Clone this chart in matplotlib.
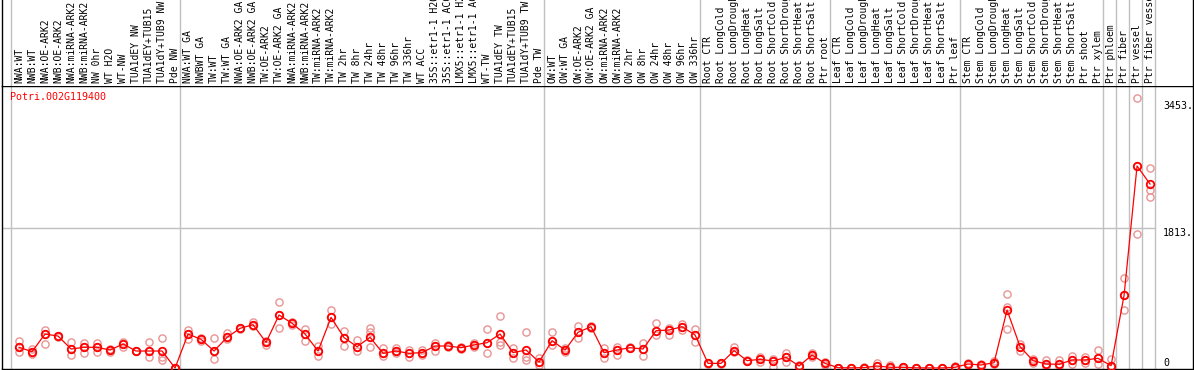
import matplotlib
matplotlib.use('Agg')
import matplotlib.pyplot as plt
import numpy as np

# ── 데이터 ──────────────────────────────
samples = [
    # NW
    'NWA:WT', 'NWB:WT', 'NWA:OE-ARK2', 'NWB:OE-ARK2', 'NWA:miRNA-ARK2', 'NWB:miRNA-ARK2',
    'NW 0hr', 'WT H2O', 'WT-NW', 'TUA1dEY NW', 'TUA1dEY+TUB15', 'TUA1dY+TUB9 NW', 'Pde NW',
    # TW
    'NWA:WT GA', 'NWBWT GA', 'TW:WT', 'TW:WT GA', 'NWA:OE-ARK2 GA', 'NWB:OE-ARK2 GA',
    'TW:OE-ARK2', 'TW:OE-ARK2 GA', 'NWA:miRNA-ARK2', 'NWB:miRNA-ARK2', 'TW:miRNA-ARK2',
    'TW:miRNA-ARK2', 'TW 2hr', 'TW 8hr', 'TW 24hr', 'TW 48hr', 'TW 96hr', 'TW 336hr',
    'WT ACC', '35S::etr1-1 H2O', '35S::etr1-1 ACC', 'LMX5::etr1-1 H2O', 'LMX5::etr1-1 ACC',
    'WT-TW', 'TUA1dEY TW', 'TUA1dEY+TUB15', 'TUA1dY+TUB9 TW', 'Pde TW',
    # OW
    'OW:WT', 'OW:WT GA', 'OW:OE-ARK2', 'OW:OE-ARK2 GA', 'OW:miRNA-ARK2', 'OW:miRNA-ARK2',
    'OW 2hr', 'OW 8hr', 'OW 24hr', 'OW 48hr', 'OW 96hr', 'OW 336hr',
    # Root
    'Root CTR', 'Root LongCold', 'Root LongDrought', 'Root LongHeat', 'Root LongSalt',
    'Root ShortCold', 'Root ShortDrought', 'Root ShortHeat', 'Root ShortSalt', 'Ptr root',
    # Leaf
    'Leaf CTR', 'Leaf LongCold', 'Leaf LongDrought', 'Leaf LongHeat', 'Leaf LongSalt',
    'Leaf ShortCold', 'Leaf ShortDrought', 'Leaf ShortHeat', 'Leaf ShortSalt', 'Ptr leaf',
    # Stem
    'Stem CTR', 'Stem LongCold', 'Stem LongDrought', 'Stem LongHeat', 'Stem LongSalt',
    'Stem ShortCold', 'Stem ShortDrought', 'Stem ShortHeat', 'Stem ShortSalt',
    'Ptr shoot', 'Ptr xylem',
    'Ptr phloem', 'Ptr fiber', 'Ptr vessel', 'Ptr fiber vessel',
]

group_sizes = [13, 28, 12, 10, 10, 11, 1, 1, 1, 1]

mean_expr = [
    268, 212, 440, 414, 246, 268, 268, 233, 311, 220, 220, 220, 0,
    440, 371, 220, 397, 514, 561, 332, 687, 579, 440, 220, 656, 393, 276, 397,
    190, 220, 190, 199, 285, 285, 263, 298, 328, 440, 199, 233, 78,
    354, 233, 462, 535, 199, 233, 263, 246, 484, 492, 535, 427,
    60, 60, 225, 95, 112, 91, 138, 26, 168, 60,
    4, 2, 5, 26, 9, 9, 2, 1, 1, 9,
    52, 39, 69, 751, 276, 95, 52, 47, 104, 104, 125,
    30, 941, 2617, 2383,
]

rep1 = [
    350, 246, 492, 414, 332, 328, 320, 246, 341, 225, 337, 384, 0,
    492, 384, 384, 449, 514, 600, 350, 851, 579, 501, 285, 751, 484, 363, 514,
    255, 255, 233, 233, 328, 298, 276, 328, 501, 674, 255, 462, 39,
    462, 255, 544, 548, 255, 276, 276, 320, 587, 514, 566, 501,
    69, 60, 268, 104, 147, 117, 190, 39, 199, 82,
    4, 2, 4, 60, 35, 9, 2, 1, 1, 26,
    69, 52, 91, 954, 307, 112, 104, 104, 155, 147, 233,
    112, 1162, 3493, 2587,
]
rep2 = [
    203, 181, 307, 405, 164, 199, 212, 212, 276, 216, 138, 138, 3,
    371, 350, 117, 371, 520, 561, 298, 514, 600, 350, 155, 566, 285, 225, 462,
    155, 190, 147, 168, 225, 276, 250, 276, 190, 337, 125, 147, 134,
    298, 212, 384, 535, 125, 168, 255, 155, 427, 427, 492, 341,
    60, 55, 207, 95, 82, 9, 82, 9, 138, 39,
    2, 3, 8, 26, 9, 12, 1, 2, 2, 9,
    39, 39, 52, 794, 225, 69, 26, 26, 47, 69, 52,
    9, 751, 1731, 2306,
]
rep3 = [
    268, 212, 440, 420, 246, 268, 268, 233, 311, 220, 220, 104, 0,
    440, 371, 220, 397, 508, 540, 332, 687, 560, 440, 220, 656, 393, 276, 268,
    190, 220, 190, 199, 285, 285, 263, 298, 328, 294, 199, 104, 78,
    354, 233, 462, 520, 199, 233, 263, 246, 484, 492, 535, 427,
    55, 65, 225, 90, 112, 91, 138, 26, 168, 60,
    6, 1, 6, 20, 5, 6, 3, 0, 0, 5,
    52, 30, 69, 501, 276, 95, 52, 47, 104, 104, 125,
    30, 941, 2617, 2211,
]

gene_id = 'Potri.002G119400'
ytick_vals = [0, 1813, 3453]
ytick_labels = ['0', '1813.', '3453.']

# ── 그림 ──────────────────────────────
W, H = 1194, 370
fig = plt.figure(figsize=(W / 100, H / 100), dpi=100)
mono = 'DejaVu Sans Mono'

# 픽셀 -> 열 좌표 변환 (열 간격 13px, 첫 열 시작 x=11)
col0, colw = 11, 13.0
x_left = (2 - col0) / colw
x_right = (1193 - col0) / colw
px_per_unit = 0.0772
y_bottom = -1 / px_per_unit
y_top = (368 - 86) / px_per_unit

ax = fig.add_axes([2 / W, 1 / H, 1191 / W, 283 / H])
axh = fig.add_axes([2 / W, 284 / H, 1191 / W, 86 / H])

n = len(samples)
xs = np.arange(n) + 0.62
bounds = np.concatenate([[0], np.cumsum(group_sizes)])

for a in (ax, axh):
    a.set_xlim(x_left, x_right)
    a.set_xticks([])
    a.set_yticks([])
    for b in bounds:
        a.axvline(b, color='#c0c0c0', lw=1.0, zorder=0)
    for s in a.spines.values():
        s.set_linewidth(1.0)
        s.set_color('black')

ax.set_ylim(y_bottom, y_top)
axh.set_ylim(0, 86)
axh.spines['top'].set_visible(False)
axh.spines['bottom'].set_visible(False)

# 1813 기준선
ax.plot([x_left, bounds[-1]], [1813, 1813], color='#c0c0c0', lw=1.0, zorder=0)

# 반복값
for rep in (rep1, rep2, rep3):
    ax.plot(xs, rep, 'o', ms=5.2, mfc='none', mec='#e89494', mew=1.0, zorder=2)

# 평균
ax.plot(xs, mean_expr, '-', color='red', lw=0.9, zorder=3)
ax.plot(xs, mean_expr, 'o', ms=5.4, mfc='none', mec='red', mew=1.3, zorder=4)

# 샘플 라벨 (위쪽은 원본처럼 잘림)
for x, lab in zip(xs, samples):
    axh.text(x, 3, lab, rotation=90, ha='center', va='bottom',
             fontsize=7.0, family=mono, clip_on=True)

# 유전자 ID
ax.text(x_left + 8 / colw, y_top - 11 / px_per_unit, gene_id, color='red',
        fontsize=7.2, family=mono, ha='left', va='center')

# y 라벨 (오른쪽)
lab_x = (1163 - col0) / colw
for v, t in zip(ytick_vals, ytick_labels):
    ax.text(lab_x, v, t, fontsize=7.2, family=mono, ha='left',
            va='bottom' if v == 0 else 'top')

fig.savefig('out.png', dpi=100)
